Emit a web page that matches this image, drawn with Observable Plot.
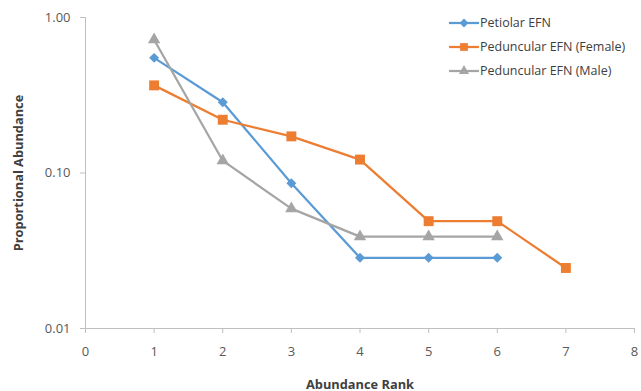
<!DOCTYPE html>
<html><head><meta charset="utf-8">
<script src="https://cdn.jsdelivr.net/npm/d3@7"></script>
<script src="https://cdn.jsdelivr.net/npm/@observablehq/plot@0.6"></script>
<style>
body{margin:0;background:#fff;}
#wrap{position:relative;width:641px;height:391px;font-family:"Open Sans",sans-serif;overflow:hidden;}
#legend{position:absolute;left:449px;top:11px;font-size:12.5px;color:#404040;line-height:24px;}
#legend div{display:flex;align-items:center;height:24px;}
#legend svg{margin-right:1px;flex:none;}
</style></head>
<body><div id="wrap"><div id="legend"></div></div>
<script>
const ranks = [1,2,3,4,5,6,7];
const seriesNames = ["Petiolar EFN","Peduncular EFN (Female)","Peduncular EFN (Male)"];
const petiolar = [0.55,0.285,0.086,0.0285,0.0285,0.0285];
const female = [0.366,0.22,0.172,0.122,0.049,0.049,0.0245];
const male = [0.72,0.12,0.059,0.039,0.039,0.039];
const colors = ["#5b9bd5","#ed7d31","#a5a5a5"];
const symbols = ["diamond2","square","triangle"];
const radii = [4.5,5.6,4.6];
const xTicks = [0,1,2,3,4,5,6,7,8];
const yTicks = [0.01,0.1,1];

const allSeries = [petiolar,female,male];
const data = allSeries.flatMap((vals,i)=>vals.map((v,j)=>({rank:ranks[j],value:v,series:seriesNames[i]})));

const marks = [
  Plot.ruleX([0],{stroke:"#bfbfbf"}),
  Plot.ruleY([0.01],{stroke:"#bfbfbf"}),
  Plot.axisX({ticks:xTicks,tickSize:5,tickPadding:13,stroke:"#bfbfbf",fontSize:13,label:"Abundance Rank",labelAnchor:"center",labelArrow:"none",labelOffset:60}),
  Plot.axisY({ticks:yTicks,tickSize:5,tickPadding:10,stroke:"#bfbfbf",fontSize:13,tickFormat:d3.format(".2f"),label:"Proportional Abundance",labelAnchor:"center",labelArrow:"none",labelOffset:72}),
];
seriesNames.forEach((name,i)=>{
  const d = data.filter(r=>r.series===name);
  marks.push(Plot.line(d,{x:"rank",y:"value",stroke:colors[i],strokeWidth:2.25}));
});
seriesNames.forEach((name,i)=>{
  const d = data.filter(r=>r.series===name);
  marks.push(Plot.dot(d,{x:"rank",y:"value",fill:colors[i],symbol:()=>symbols[i],r:radii[i],stroke:"none"}));
});

const chart = Plot.plot({
  width:641,height:391,
  marginLeft:85,marginRight:7,marginTop:17,marginBottom:63,
  style:{fontFamily:"Open Sans, sans-serif",fontSize:"13px",color:"#595959",background:"#fff",overflow:"hidden"},
  x:{domain:[0,8],axis:null},
  y:{type:"log",domain:[0.01,1],axis:null},
  marks
});
chart.querySelectorAll("g[aria-label='x-axis label'] text, g[aria-label='y-axis label'] text").forEach(t=>{
  t.setAttribute("font-weight","bold");t.setAttribute("font-size","12.8");t.setAttribute("fill","#404040");
});
chart.querySelectorAll("g[aria-label='x-axis label'], g[aria-label='y-axis label']").forEach(g=>{g.setAttribute("font-size","12.8");g.setAttribute("font-weight","bold");});
chart.querySelectorAll("g[aria-label='x-axis tick label'], g[aria-label='y-axis tick label']").forEach(g=>{g.setAttribute("fill","#595959");});
document.getElementById("wrap").prepend(chart);

const legend = document.getElementById("legend");
seriesNames.forEach((name,i)=>{
  const row = document.createElement("div");
  let path;
  if(i===0) path = d3.symbol(d3.symbolDiamond2, 50)();
  else if(i===1) path = d3.symbol(d3.symbolSquare, 60)();
  else path = d3.symbol(d3.symbolTriangle, 45)();
  row.innerHTML = `<svg width="30" height="12"><line x1="0" x2="30" y1="6" y2="6" stroke="${colors[i]}" stroke-width="2.25"/><path d="${path}" transform="translate(15,6)" fill="${colors[i]}"/></svg><span>${name}</span>`;
  legend.appendChild(row);
});
</script></body></html>
